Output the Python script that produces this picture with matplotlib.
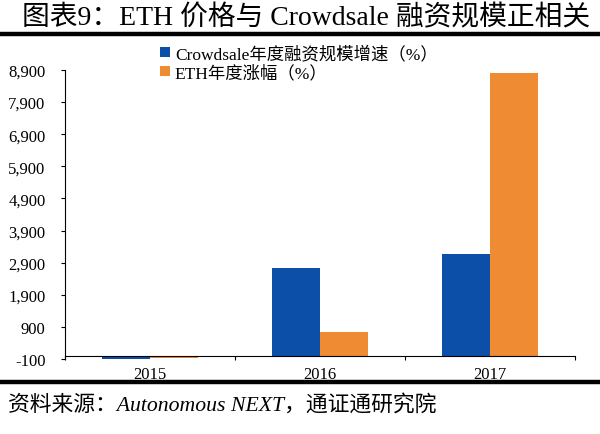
import matplotlib
matplotlib.use("Agg")
import matplotlib.pyplot as plt
from matplotlib.ticker import FuncFormatter, FixedLocator
import numpy as np

years = ["2015", "2016", "2017"]
crowdsale_growth = [-95, 2730, 3170]
eth_gain = [-70, 740, 8800]
yticks = list(range(-100, 8901, 1000))

title = "图表9：ETH 价格与 Crowdsale 融资规模正相关"
source = "资料来源：Autonomous NEXT，通证通研究院"
series_names = ["Crowdsale年度融资规模增速（%）", "ETH年度涨幅（%）"]

fam = ["Liberation Serif", "Noto Sans CJK SC"]
plt.rcParams["font.family"] = fam

blue = "#0B4FA8"
orange = "#EF8B33"

fig = plt.figure(figsize=(6, 4.35), dpi=100)
ax = fig.add_axes([65/600, 1-360/435, 510/600, 289/435])

x = np.arange(len(years))
w = 0.282
ax.bar(x - w/2, crowdsale_growth, w, color=blue, label=series_names[0])
ax.bar(x + w/2, eth_gain, w, color=orange, label=series_names[1])

ax.set_xlim(-0.5, 2.5)
ax.set_ylim(-100, 8900)
ax.set_yticks(yticks)
ax.yaxis.set_major_formatter(FuncFormatter(lambda v, p: f"{int(v):,}"))
ax.tick_params(axis="y", direction="out", length=3, width=0.8, labelsize=12, pad=11, colors="black")

ax.xaxis.set_major_locator(FixedLocator([-0.5, 0.5, 1.5, 2.5]))
ax.xaxis.set_major_formatter(FuncFormatter(lambda v, p: ""))
ax.xaxis.set_minor_locator(FixedLocator(list(x)))
ax.set_xticklabels(years, minor=True)
ax.tick_params(axis="x", which="major", direction="out", length=3, width=0.8)
ax.tick_params(axis="x", which="minor", length=0, labelsize=12, pad=7.5)

ax.spines["top"].set_visible(False)
ax.spines["right"].set_visible(False)
ax.spines["bottom"].set_position(("data", 0))
ax.spines["left"].set_linewidth(0.8)
ax.spines["bottom"].set_linewidth(0.8)

leg = ax.legend(loc="upper left", bbox_to_anchor=(160/600, 1-46/435), bbox_transform=fig.transFigure,
                frameon=False, fontsize=12.5, handlelength=0.55, handleheight=0.55,
                handletextpad=0.3, labelspacing=0.15, borderaxespad=0, borderpad=0)

fig.text(22/600, 1-18/435, title, fontsize=20, va="center", ha="left", family=fam)
fig.add_artist(plt.Line2D([0, 1], [1-35/435, 1-35/435], color="black", lw=3.2, transform=fig.transFigure))
fig.add_artist(plt.Line2D([0, 1], [1-383/435, 1-383/435], color="black", lw=3.2, transform=fig.transFigure))
fig.text(8/600, 1-405/435, source, fontsize=15.7, va="center", ha="left", style="italic", family=fam)

fig.savefig("out.png", dpi=100)
